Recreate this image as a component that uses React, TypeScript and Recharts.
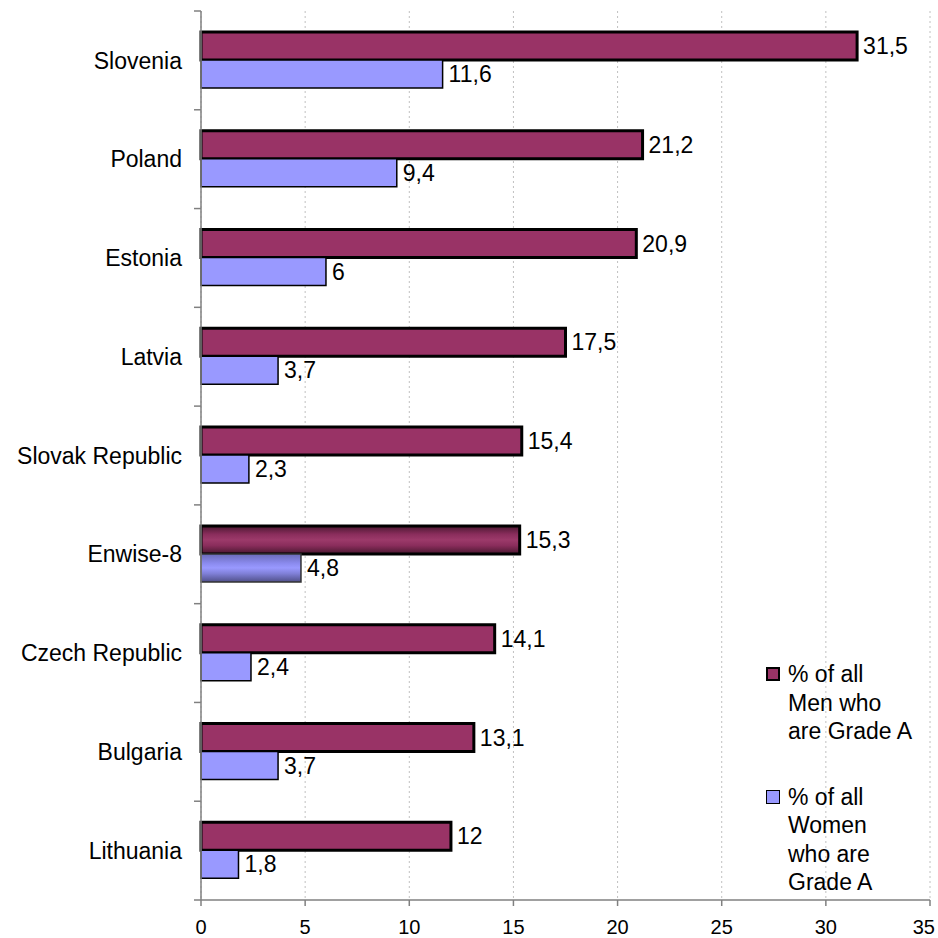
import React from "react";
import {
  BarChart,
  Bar,
  XAxis,
  YAxis,
  CartesianGrid,
  LabelList,
  Legend,
  Cell,
} from "recharts";

const categories = [
  "Slovenia",
  "Poland",
  "Estonia",
  "Latvia",
  "Slovak Republic",
  "Enwise-8",
  "Czech Republic",
  "Bulgaria",
  "Lithuania",
];

const menValues = [31.5, 21.2, 20.9, 17.5, 15.4, 15.3, 14.1, 13.1, 12];
const womenValues = [11.6, 9.4, 6, 3.7, 2.3, 4.8, 2.4, 3.7, 1.8];

const xTicks = [0, 5, 10, 15, 20, 25, 30, 35];

const MEN_LABEL = "% of all Men who are Grade A";
const WOMEN_LABEL = "% of all Women who are Grade A";
const HIGHLIGHT = "Enwise-8";

const data = categories.map((name, i) => ({
  name,
  men: menValues[i],
  women: womenValues[i],
}));

const W = 938;
const H = 938;
const MARGIN = { top: 11, right: 8, bottom: 0, left: 0 };
const X_AXIS_H = 38;
const Y_AXIS_W = 201;
const BAND = (H - MARGIN.top - MARGIN.bottom - X_AXIS_H) / categories.length;

const FONT = "'Liberation Sans', Arial, sans-serif";
const FONT_SIZE = 23;
const AXIS_COLOR = "#808080";

const fmt = (v: any) => String(v).replace(".", ",");

const CategoryTick = (props: any) => {
  const { x, y, payload, index } = props;
  const half = BAND / 2;
  return (
    <g>
      <line x1={x - 7} x2={x} y1={y - half} y2={y - half} stroke={AXIS_COLOR} strokeWidth={1.5} />
      {index === categories.length - 1 && (
        <line x1={x - 7} x2={x} y1={y + half} y2={y + half} stroke={AXIS_COLOR} strokeWidth={1.5} />
      )}
      <text
        x={x - 19}
        y={y}
        dy="0.355em"
        textAnchor="end"
        fontSize={FONT_SIZE}
        fill="#000"
        fontFamily={FONT}
      >
        {payload.value}
      </text>
    </g>
  );
};

// last label sits against the right edge, so anchor it at its end
const ValueTick = (props: any) => {
  const { x, y, payload, index } = props;
  const last = index === xTicks.length - 1;
  return (
    <text
      x={last ? x + 5 : x}
      y={y}
      dy="0.71em"
      textAnchor={last ? "end" : "middle"}
      fontSize={20}
      fill="#000"
      fontFamily={FONT}
    >
      {payload.value}
    </text>
  );
};

const LegendBox = () => {
  const items = [
    { label: MEN_LABEL, lines: ["% of all", "Men who", "are Grade A"], fill: "#993366", border: 2.5 },
    { label: WOMEN_LABEL, lines: ["% of all", "Women", "who are", "Grade A"], fill: "#9999ff", border: 1.5 },
  ];
  return (
    <div style={{ fontFamily: FONT, fontSize: FONT_SIZE, lineHeight: "28.5px", color: "#000" }}>
      {items.map((it, i) => (
        <div key={it.label} style={{ display: "flex", marginBottom: i === 0 ? 37 : 0 }}>
          <div
            style={{
              width: 15 - it.border * 2,
              height: 15 - it.border * 2,
              background: it.fill,
              border: `${it.border}px solid #000`,
              marginTop: 7,
              marginRight: 8,
              flexShrink: 0,
            }}
          />
          <div>
            {it.lines.map((l) => (
              <div key={l}>{l}</div>
            ))}
          </div>
        </div>
      ))}
    </div>
  );
};

export default function App() {
  return (
    <div style={{ position: "absolute", left: 0, top: 0, width: W, height: H, background: "#fff" }}>
      <BarChart
        width={W}
        height={H}
        data={data}
        layout="vertical"
        margin={MARGIN}
        barCategoryGap={21}
        barGap={0}
      >
        <defs>
          <linearGradient id="menGrad" x1="0" y1="0" x2="0" y2="1">
            <stop offset="0" stopColor="#4a1830" />
            <stop offset="0.3" stopColor="#8a2d5c" />
            <stop offset="0.5" stopColor="#9c3a6a" />
            <stop offset="0.7" stopColor="#8a2d5c" />
            <stop offset="1" stopColor="#4a1830" />
          </linearGradient>
          <linearGradient id="womenGrad" x1="0" y1="0" x2="0" y2="1">
            <stop offset="0" stopColor="#6a6ab8" />
            <stop offset="0.35" stopColor="#8c8cf0" />
            <stop offset="0.5" stopColor="#9999ff" />
            <stop offset="0.7" stopColor="#8080d8" />
            <stop offset="1" stopColor="#50508a" />
          </linearGradient>
        </defs>
        <CartesianGrid horizontal={false} stroke="#c0c0c0" strokeDasharray="2 3" />
        <XAxis
          type="number"
          domain={[0, 35]}
          ticks={xTicks}
          interval={0}
          height={X_AXIS_H}
          stroke={AXIS_COLOR}
          strokeWidth={1.5}
          tickSize={6}
          tickMargin={14}
          tick={<ValueTick />}
        />
        <YAxis
          type="category"
          dataKey="name"
          width={Y_AXIS_W}
          interval={0}
          stroke={AXIS_COLOR}
          strokeWidth={1.5}
          tickLine={false}
          tickSize={0}
          tickMargin={0}
          tick={<CategoryTick />}
        />
        <Legend
          layout="horizontal"
          verticalAlign="middle"
          align="center"
          content={<LegendBox />}
          wrapperStyle={{ left: 766, top: 660, width: 172, height: 240 }}
        />
        <Bar
          dataKey="men"
          name={MEN_LABEL}
          fill="#993366"
          stroke="#000"
          strokeWidth={3}
          isAnimationActive={false}
        >
          {data.map((d) => (
            <Cell key={d.name} fill={d.name === HIGHLIGHT ? "url(#menGrad)" : "#993366"} />
          ))}
          <LabelList
            dataKey="men"
            position="right"
            offset={6}
            formatter={fmt}
            fill="#000"
            fontSize={FONT_SIZE}
            fontFamily={FONT}
          />
        </Bar>
        <Bar
          dataKey="women"
          name={WOMEN_LABEL}
          fill="#9999ff"
          stroke="#000"
          strokeWidth={1.5}
          isAnimationActive={false}
        >
          {data.map((d) => (
            <Cell
              key={d.name}
              fill={d.name === HIGHLIGHT ? "url(#womenGrad)" : "#9999ff"}
              stroke={d.name === HIGHLIGHT ? "#333" : "#000"}
            />
          ))}
          <LabelList
            dataKey="women"
            position="right"
            offset={6}
            formatter={fmt}
            fill="#000"
            fontSize={FONT_SIZE}
            fontFamily={FONT}
          />
        </Bar>
      </BarChart>
    </div>
  );
}
